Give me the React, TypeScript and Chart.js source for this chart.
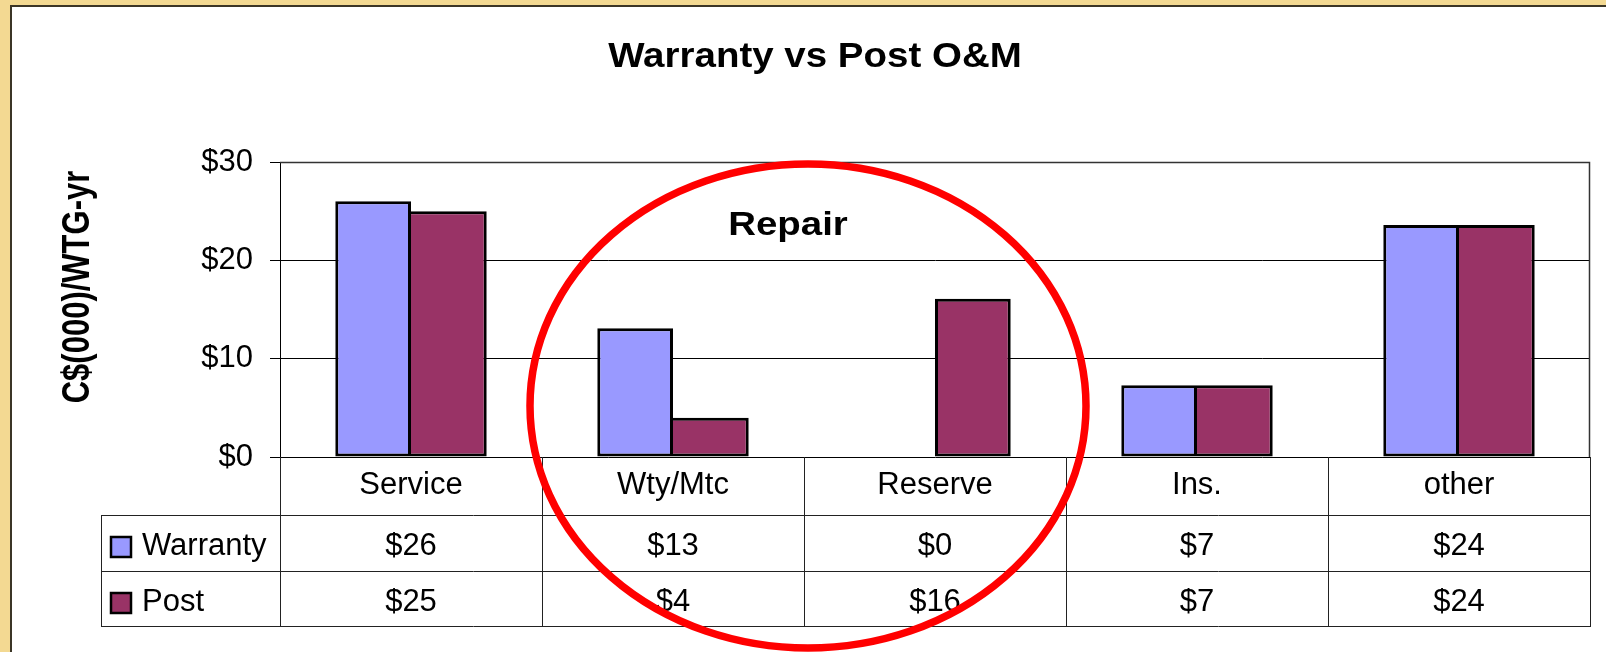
import React, { useEffect, useRef } from 'react';
import { Chart, registerables } from 'chart.js';

Chart.register(...registerables);

// ---- data ----
const categories = ['Service', 'Wty/Mtc', 'Reserve', 'Ins.', 'other'];
const seriesNames = ['Warranty', 'Post'];
const warrantyValues = [26, 13.1, 0, 7.3, 23.6];
const postValues = [25, 4, 16.1, 7.3, 23.6];
const yTicks = [0, 10, 20, 30];
const chartTitle = 'Warranty vs Post O&M';
const yAxisTitle = 'C$(000)/WTG-yr';
const calloutText = 'Repair';

const FONT = '"Liberation Sans", Arial, Helvetica, sans-serif';
const SERIES_COLORS = ['#9999FF', '#993366'];
const fmt = (v: number) => '$' + Math.round(v);

const decorPlugin = {
  id: 'decor',
  beforeDraw(chart: any) {
    const ctx = chart.ctx as CanvasRenderingContext2D;
    const W = chart.width;
    const H = chart.height;
    ctx.save();
    ctx.fillStyle = '#F3D992';
    ctx.fillRect(0, 0, W, H);
    ctx.fillStyle = '#FFFFFF';
    ctx.fillRect(10, 5, W, H);
    ctx.strokeStyle = '#3b3526';
    ctx.lineWidth = 2;
    ctx.beginPath();
    ctx.moveTo(11, H + 5);
    ctx.lineTo(11, 6);
    ctx.lineTo(W + 5, 6);
    ctx.stroke();
    ctx.restore();
  },
  afterDraw(chart: any) {
    const ctx = chart.ctx as CanvasRenderingContext2D;
    const area = chart.chartArea;
    const xs = chart.scales.x;
    const n = categories.length;
    const cw = xs.getPixelForValue(1) - xs.getPixelForValue(0);
    const bounds: number[] = [];
    for (let i = 0; i <= n; i++) bounds.push(Math.round(xs.getPixelForValue(0) - cw / 2 + i * cw));

    const headTop = area.bottom;
    const row1 = 515;
    const row2 = 571;
    const tBottom = 626;
    const tLeft = 101;

    ctx.save();
    // plot border (top & right)
    ctx.strokeStyle = '#333';
    ctx.lineWidth = 1.5;
    ctx.beginPath();
    ctx.moveTo(area.left, area.top + 0.5);
    ctx.lineTo(area.right - 0.5, area.top + 0.5);
    ctx.lineTo(area.right - 0.5, area.bottom);
    ctx.stroke();

    // table lines
    ctx.strokeStyle = '#222';
    ctx.lineWidth = 1;
    ctx.beginPath();
    for (const b of bounds) {
      ctx.moveTo(b + 0.5, headTop);
      ctx.lineTo(b + 0.5, tBottom);
    }
    for (const y of [row1, row2, tBottom]) {
      ctx.moveTo(tLeft, y + 0.5);
      ctx.lineTo(bounds[n] + 1, y + 0.5);
    }
    ctx.moveTo(tLeft + 0.5, row1);
    ctx.lineTo(tLeft + 0.5, tBottom);
    ctx.stroke();

    // table texts
    ctx.fillStyle = '#000';
    ctx.font = `31px ${FONT}`;
    ctx.textAlign = 'center';
    ctx.textBaseline = 'alphabetic';
    const series = [warrantyValues, postValues];
    const baselines = [555, 611];
    categories.forEach((c, i) => {
      const cx = xs.getPixelForValue(i);
      ctx.fillText(c, cx, 494);
      series.forEach((s, k) => ctx.fillText(fmt(s[i]), cx, baselines[k]));
    });
    // legend keys
    ctx.textAlign = 'left';
    const boxTops = [537, 593];
    seriesNames.forEach((name, k) => {
      ctx.fillStyle = SERIES_COLORS[k];
      ctx.fillRect(111, boxTops[k], 20, 20);
      ctx.strokeStyle = '#000';
      ctx.lineWidth = 2.5;
      ctx.strokeRect(111, boxTops[k], 20, 20);
      ctx.fillStyle = '#000';
      ctx.fillText(name, 142, baselines[k]);
    });

    // title (stretched like the source)
    ctx.font = `bold 35px ${FONT}`;
    ctx.textAlign = 'center';
    ctx.save();
    ctx.translate(815, 67);
    ctx.scale(1.1, 1);
    ctx.fillText(chartTitle, 0, 0);
    ctx.restore();

    // callout text
    ctx.font = `bold 34px ${FONT}`;
    ctx.save();
    ctx.translate(788, 235);
    ctx.scale(1.13, 1);
    ctx.fillText(calloutText, 0, 0);
    ctx.restore();

    // y axis title
    ctx.save();
    ctx.font = `bold 31px ${FONT}`;
    ctx.translate(78, 287);
    ctx.rotate(-Math.PI / 2);
    ctx.scale(1, 1.25);
    ctx.textBaseline = 'middle';
    ctx.fillText(yAxisTitle, 0, 0);
    ctx.restore();

    // red ellipse
    ctx.strokeStyle = '#FF0000';
    ctx.lineWidth = 7.5;
    ctx.beginPath();
    ctx.ellipse(808, 406, 278, 242, 0, 0, Math.PI * 2);
    ctx.stroke();
    ctx.restore();
  },
};

export default function App() {
  const ref = useRef<HTMLCanvasElement | null>(null);
  useEffect(() => {
    if (!ref.current) return;
    const chart = new Chart(ref.current, {
      type: 'bar',
      data: {
        labels: categories,
        datasets: [
          {
            label: seriesNames[0],
            data: warrantyValues,
            backgroundColor: SERIES_COLORS[0],
            borderColor: '#000',
            borderWidth: 3,
            borderSkipped: false,
            categoryPercentage: 0.578,
            barPercentage: 1,
          },
          {
            label: seriesNames[1],
            data: postValues,
            backgroundColor: SERIES_COLORS[1],
            borderColor: '#000',
            borderWidth: 3,
            borderSkipped: (c: any) => (warrantyValues[c.dataIndex] > 0 ? 'left' : false),
            categoryPercentage: 0.578,
            barPercentage: 1,
          },
        ],
      },
      options: {
        responsive: false,
        animation: false,
        layout: { padding: { left: 180, right: 16, top: 162, bottom: 195 } },
        plugins: {
          legend: { display: false },
          title: { display: false },
          tooltip: { enabled: false },
        },
        scales: {
          x: { display: false },
          y: {
            min: 0,
            max: 30,
            afterFit: (s: any) => {
              s.width = 100;
            },
            afterBuildTicks: (s: any) => {
              s.ticks = yTicks.map((v) => ({ value: v }));
            },
            grid: { color: '#000', lineWidth: 1, tickLength: 10, drawTicks: true },
            border: { display: true, color: '#000', width: 1 },
            ticks: {
              font: { family: FONT, size: 31 },
              color: '#000',
              padding: 17,
              callback: (v: any) => '$' + v,
            },
          },
        },
      },
      plugins: [decorPlugin],
    });
    return () => chart.destroy();
  }, []);
  return (
    <canvas
      ref={ref}
      width={1606}
      height={652}
      style={{ position: 'fixed', left: 0, top: 0, width: 1606, height: 652, display: 'block' }}
    />
  );
}
